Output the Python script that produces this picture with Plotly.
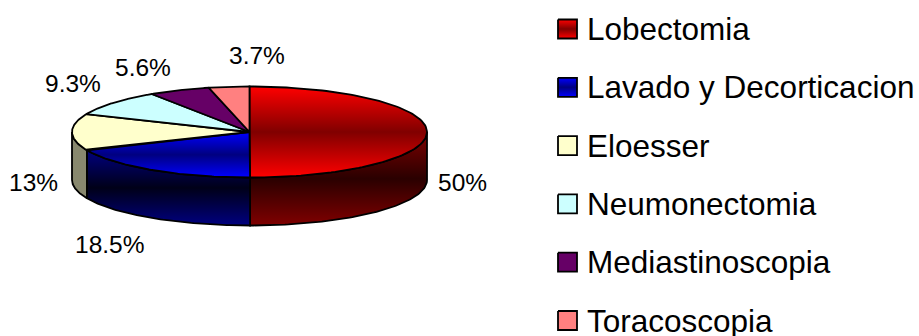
import numpy as np
import plotly.graph_objects as go

categories = ["Lobectomia", "Lavado y Decorticacion", "Eloesser", "Neumonectomia", "Mediastinoscopia", "Toracoscopia"]
values = [50, 18.5, 13, 9.3, 5.6, 3.7]
value_labels = ["50%", "18.5%", "13%", "9.3%", "5.6%", "3.7%"]

# appearance: (edge colour, middle colour) of each top face
top_colors = [("#FF0000", "#800000"), ("#0000FF", "#000080"), ("#FFFFCC", "#FFFFCC"),
              ("#CCFFFF", "#CCFFFF"), ("#660066", "#660066"), ("#FF8080", "#FF8080")]
side_colors = [("#800000", "#2A0000"), ("#000080", "#000018"), ("#88886E", "#88886E")]

W, H = 919, 336
CX, CY, RX, RY, DEPTH = 249.5, 132, 177.5, 45.5, 48
label_pos = [(462, 182), (109.5, 244), (33.5, 182), (73, 83.5), (143, 67.5), (257, 55.5)]
LABEL_SIZE, LEGEND_SIZE = 24.5, 31.5
LEG_X0, LEG_SIZE, LEG_TX, LEG_Y0, LEG_STEP = 558, 19, 584.5, 29, 58.3

def ell(t, dy=0.0):
    return CX + RX * np.sin(t), CY - RY * np.cos(t) + dy

def grad(c, y0, y1):
    return dict(type="vertical", colorscale=[[0, c[0]], [0.5, c[1]], [1, c[0]]], start=y0, stop=y1)

fig = go.Figure()
edges = np.radians(np.cumsum([0] + values) / sum(values) * 360)

def poly(x, y, c):
    y = np.asarray(y)
    kw = dict(fillgradient=grad(c, float(y.min()), float(y.max()))) if c[0] != c[1] else dict(fillcolor=c[0])
    fig.add_trace(go.Scatter(x=x, y=y, mode="lines", fill="toself", line=dict(color="black", width=1.8),
                             hoverinfo="skip", showlegend=False, **kw))

# side walls: only the front half of the rim is visible
for i in range(3):
    a0, a1 = max(edges[i], np.pi / 2), min(edges[i + 1], 3 * np.pi / 2)
    t = np.linspace(a0, a1, 80)
    xu, yu = ell(t)
    xl, yl = ell(t, DEPTH)
    poly(np.r_[xu, xl[::-1], xu[0]], np.r_[yu, yl[::-1], yu[0]], side_colors[i])

# top faces
for i in range(len(values)):
    t = np.linspace(edges[i], edges[i + 1], 120)
    x, y = ell(t)
    poly(np.r_[CX, x, CX], np.r_[CY, y, CY], top_colors[i])

# percent labels
for txt, (x, y) in zip(value_labels, label_pos):
    fig.add_annotation(x=x, y=y, text=txt, showarrow=False, xanchor="center", yanchor="middle",
                       font=dict(family="Liberation Sans", size=LABEL_SIZE, color="black"))

# legend
for i, name in enumerate(categories):
    yc = LEG_Y0 + i * LEG_STEP
    s = LEG_SIZE / 2
    x0, x1 = LEG_X0, LEG_X0 + LEG_SIZE
    poly([x0, x1, x1, x0, x0], [yc - s, yc - s, yc + s, yc + s, yc - s], top_colors[i])
    fig.add_annotation(x=LEG_TX, y=yc, text=name, showarrow=False, xanchor="left", yanchor="middle",
                       font=dict(family="Liberation Sans", size=LEGEND_SIZE, color="black"))

fig.update_layout(width=W, height=H, margin=dict(l=0, r=0, t=0, b=0), paper_bgcolor="white",
                  plot_bgcolor="white", showlegend=False,
                  xaxis=dict(range=[0, W], visible=False, fixedrange=True),
                  yaxis=dict(range=[H, 0], visible=False, fixedrange=True))
fig.write_html("out.html", config=dict(displayModeBar=False),
               post_script="document.body.style.margin='0';document.body.style.overflow='hidden';")
